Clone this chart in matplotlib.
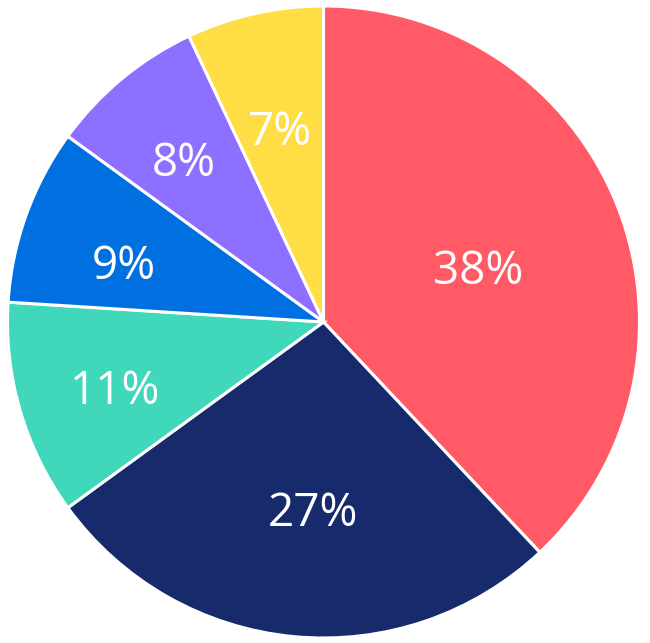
import matplotlib.pyplot as plt
import numpy as np

labels = ['A', 'B', 'C', 'D', 'E', 'F']
values = [38, 27, 11, 9, 8, 7]
colors = ['#FF5A66', '#172B6C', '#40D7BA', '#0070E0', '#8D70FF', '#FFDE45']
# label distance from centre and small angle nudge (deg) per slice
label_dist = [0.52, 0.59, 0.69, 0.66, 0.68, 0.63]
label_turn = [-2, 2, 1, 3, 1, 0]

plt.rcParams['font.family'] = ['Open Sans', 'DejaVu Sans']

fig = plt.figure(figsize=(6.5, 6.43), dpi=100)
ax = fig.add_axes([0, 0, 1, 1])
wedges, _ = ax.pie(values, colors=colors, startangle=90, counterclock=False,
                   radius=1, wedgeprops=dict(edgecolor='white', linewidth=2.2))

for w, v, d, t in zip(wedges, values, label_dist, label_turn):
    ang = np.deg2rad((w.theta1 + w.theta2) / 2 + t)
    ax.text(d * np.cos(ang), d * np.sin(ang), f'{v}%', color='white',
            fontsize=33, ha='center', va='center_baseline')

r = 316.0
ax.set_xlim(-323.5 / r, (650 - 323.5) / r)
ax.set_ylim(-321 / r, 322 / r)
ax.set_aspect('auto')
ax.axis('off')
fig.savefig('out.png', dpi=100)
